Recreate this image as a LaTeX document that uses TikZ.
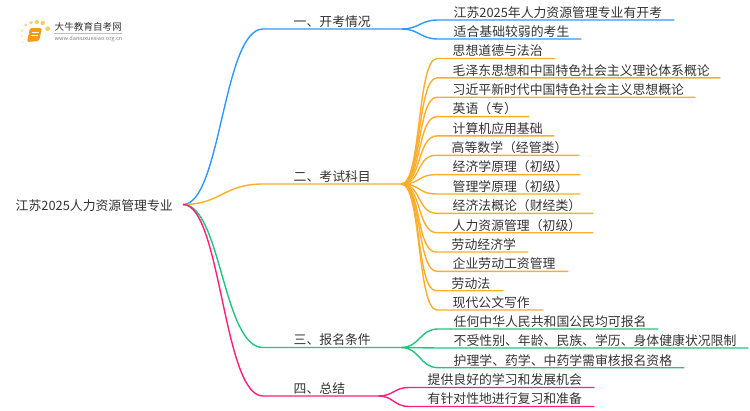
\documentclass[tikz,border=0pt]{standalone}
\usepackage{fontspec}
\setmainfont{Noto Sans CJK SC}
\usetikzlibrary{calc,positioning}
\definecolor{txtgray}{HTML}{333333}
\definecolor{lineblue}{HTML}{2F97FF}
\definecolor{lineorange}{HTML}{FAAE2B}
\definecolor{linegreen}{HTML}{1FC580}
\definecolor{linepink}{HTML}{FF1F7A}
\definecolor{logoorange}{HTML}{F59A1B}
\definecolor{logodot}{HTML}{FBCB6A}

\begin{document}
\begin{tikzpicture}[x=1pt,y=-1pt,line width=1.4pt,
		branch/.style={anchor=south west,inner sep=0pt,text height=10pt,text depth=2pt,align=left,text=txtgray,font=\fontsize{12.85pt}{14pt}\selectfont},
		leaf/.style={branch}]
	\useasboundingbox (0,0) rectangle (750,410);

	% logo
	\foreach \dx/\dy/\dr/\dop in {47.7/28.7/2.4/1,42.7/23/2.2/1,37/22/2.1/1,31/22.7/1.9/.9,25.7/25/1.6/.8,22/30.7/1.4/.6,22/36/1.2/.5,23/42/1/.35}
		\fill[logodot,opacity=\dop] (\dx,\dy) circle (\dr);
	\fill[logoorange,rounded corners=1.5pt] (30,28) -- (42,28) -- (39,41) -- (27,42) -- cycle;
	\draw[white,line width=.7pt] (32,32) -- (39,32);
	\draw[white,line width=.7pt] (31,35) -- (38,35);
	\node[anchor=west,inner sep=0pt,text=txtgray,font=\fontsize{9.6pt}{11pt}\selectfont] (logoname) at (54,27) {大牛教育自考网};
	\draw[lightgray,line width=.4pt] (54,33) -- (122,33);
	\node[anchor=west,inner sep=0pt,text=gray,font=\fontsize{5.6pt}{7pt}\selectfont] (logourl) at (54,38.5) {www.daniuxuexiao.org.cn};

	\node[anchor=west,inner sep=0pt,text=txtgray,font=\fontsize{12.85pt}{14pt}\selectfont] (root) at (15,205.5) {江苏2025人力资源管理专业};
	\coordinate (start) at (183,204.5);

	\node[branch,text width=107pt] (one) at (293,29) {一、开考情况};
	\node[branch,text width=107pt] (two) at (293,184) {二、考试科目};
	\node[branch,text width=107pt] (three) at (293,347.5) {三、报名条件};
	\node[branch,text width=84pt] (four) at (293,396) {四、总结};

	\node[leaf,text width=220pt] (a1) at (453,20) {江苏2025年人力资源管理专业有开考};
	\node[leaf,text width=127pt] (a2) at (453,39) {适合基础较弱的考生};

	\node[leaf,text width=102pt] (b1) at (452,58.5) {思想道德与法治};
	\node[leaf,text width=267pt] (b2) at (452,77.9) {毛泽东思想和中国特色社会主义理论体系概论};
	\node[leaf,text width=242pt] (b3) at (452,97.2) {习近平新时代中国特色社会主义思想概论};
	\node[leaf,text width=76pt] (b4) at (452,116.6) {英语（专）};
	\node[leaf,text width=101pt] (b5) at (452,135.9) {计算机应用基础};
	\node[leaf,text width=127pt] (b6) at (451,155.3) {高等数学（经管类）};
	\node[leaf,text width=127pt] (b7) at (452,174.6) {经济学原理（初级）};
	\node[leaf,text width=127pt] (b8) at (452,194) {管理学原理（初级）};
	\node[leaf,text width=140pt] (b9) at (452,213.3) {经济法概论（财经类）};
	\node[leaf,text width=140pt] (b10) at (452,232.7) {人力资源管理（初级）};
	\node[leaf,text width=76pt] (b11) at (451,252) {劳动经济学};
	\node[leaf,text width=115pt] (b12) at (452,271.4) {企业劳动工资管理};
	\node[leaf,text width=51pt] (b13) at (451,290.7) {劳动法};
	\node[leaf,text width=90pt] (b14) at (452,310) {现代公文写作};

	\node[leaf,text width=204pt] (c1) at (453,329) {任何中华人民共和国公民均可报名};
	\node[leaf,text width=294pt] (c2) at (453,348) {不受性别、年龄、民族、学历、身体健康状况限制};
	\node[leaf,text width=230pt] (c3) at (453,367.7) {护理学、药学、中药学需审核报名资格};

	\node[leaf,text width=166pt] (d1) at (427,387.5) {提供良好的学习和发展机会};
	\node[leaf,text width=166pt] (d2) at (427,406.5) {有针对性地进行复习和准备};

	% main branches
	\foreach \n/\c in {one/lineblue,two/lineorange,three/linegreen,four/linepink}
		\draw[\c] (start) .. controls +(38,0) and +(-40,0) .. ($(\n.south west)+(-30,0)$) -- (\n.south east);

	% leaves
	\foreach \n in {a1,a2}
		\draw[lineblue] (one.south east) .. controls +(18,0) and +(-18,0) .. ($(\n.south west)+(-15,0)$) -- (\n.south east);
	\foreach \n in {b1,b2,b3,b4,b5,b6,b7,b8,b9,b10,b11,b12,b13,b14}
		\draw[lineorange] (two.south east) .. controls +(20,0) and +(-20,0) .. ($(\n.south west)+(-15,0)$) -- (\n.south east);
	\foreach \n in {c1,c2,c3}
		\draw[linegreen] (three.south east) .. controls +(18,0) and +(-18,0) .. ($(\n.south west)+(-15,0)$) -- (\n.south east);
	\foreach \n in {d1,d2}
		\draw[linepink] (four.south east) .. controls +(15,0) and +(-15,0) .. ($(\n.south west)+(-18,0)$) -- (\n.south east);
\end{tikzpicture}
\end{document}
